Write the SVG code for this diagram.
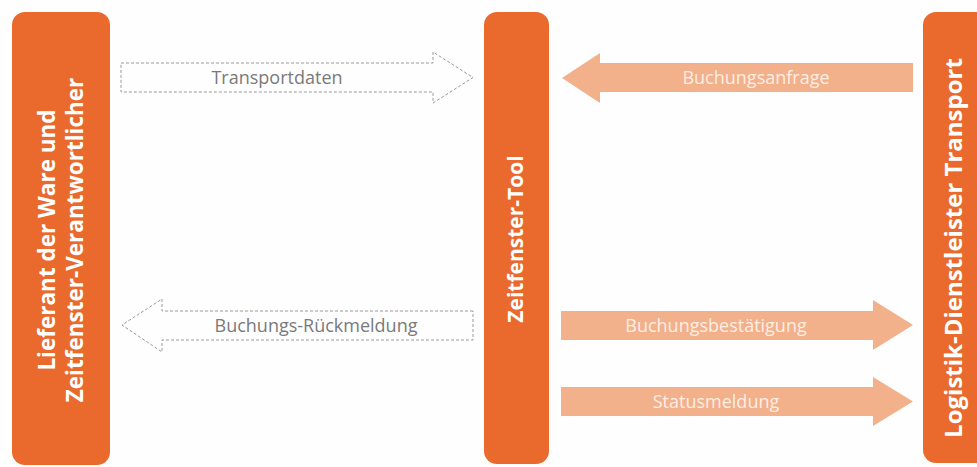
<svg xmlns="http://www.w3.org/2000/svg" width="977" height="467" viewBox="0 0 977 467">
  <style>
    .bar { fill: #E96A2C; }
    .bartext { fill: #FFFFFF; font-family: "Open Sans", "Liberation Sans", sans-serif; font-weight: bold; text-anchor: middle; }
    .solid { fill: #F2B08B; }
    .solidtext { fill: #FDEEE4; font-family: "Open Sans", "Liberation Sans", sans-serif; font-size: 18px; text-anchor: middle; }
    .dashed { fill: none; stroke: #9A9A9A; stroke-width: 1; stroke-dasharray: 3 2; }
    .dashtext { fill: #7A7A7A; font-family: "Open Sans", "Liberation Sans", sans-serif; font-size: 18px; text-anchor: middle; }
  </style>
  <rect width="977" height="467" fill="#FEFEFE"/>

  <!-- participant columns, labels run bottom-to-top -->
  <g id="lieferant">
    <rect class="bar" x="12" y="12" width="98" height="453" rx="13"/>
    <text class="bartext" font-size="22.5" transform="translate(55,240) rotate(-90)">Lieferant der Ware und</text>
    <text class="bartext" font-size="22.5" transform="translate(83,240) rotate(-90)">Zeitfenster-Verantwortlicher</text>
  </g>

  <g id="zeitfenster-tool">
    <rect class="bar" x="484" y="12" width="65" height="452" rx="13"/>
    <text class="bartext" font-size="21" transform="translate(523,239) rotate(-90)">Zeitfenster-Tool</text>
  </g>

  <g id="logistik">
    <rect class="bar" x="923" y="12" width="70" height="451" rx="13"/>
    <text class="bartext" font-size="24" transform="translate(962,248) rotate(-90)">Logistik-Dienstleister Transport</text>
  </g>

  <!-- message arrows -->
  <g id="connectors">
    <g id="transportdaten">
      <path class="dashed" d="M121,63 H433 V52 L473,77.5 L433,103 V92 H121 Z"/>
      <text class="dashtext" x="277" y="84">Transportdaten</text>
    </g>
    <g id="buchungs-rueckmeldung">
      <path class="dashed" d="M473,311 H162 V299 L122,325 L162,352 V340 H473 Z"/>
      <text class="dashtext" x="316" y="332">Buchungs-Rückmeldung</text>
    </g>
    <g id="buchungsanfrage">
      <path class="solid" d="M913,63 H600 V53 L562,78 L600,103 V92 H913 Z"/>
      <text class="solidtext" x="756" y="84">Buchungsanfrage</text>
    </g>
    <g id="buchungsbestaetigung">
      <path class="solid" d="M561,311 H873 V300 L913,325 L873,350 V340 H561 Z"/>
      <text class="solidtext" x="716" y="332">Buchungsbestätigung</text>
    </g>
    <g id="statusmeldung">
      <path class="solid" d="M561,387 H873 V377 L913,401.5 L873,426 V416 H561 Z"/>
      <text class="solidtext" x="716" y="408">Statusmeldung</text>
    </g>
  </g>
</svg>
